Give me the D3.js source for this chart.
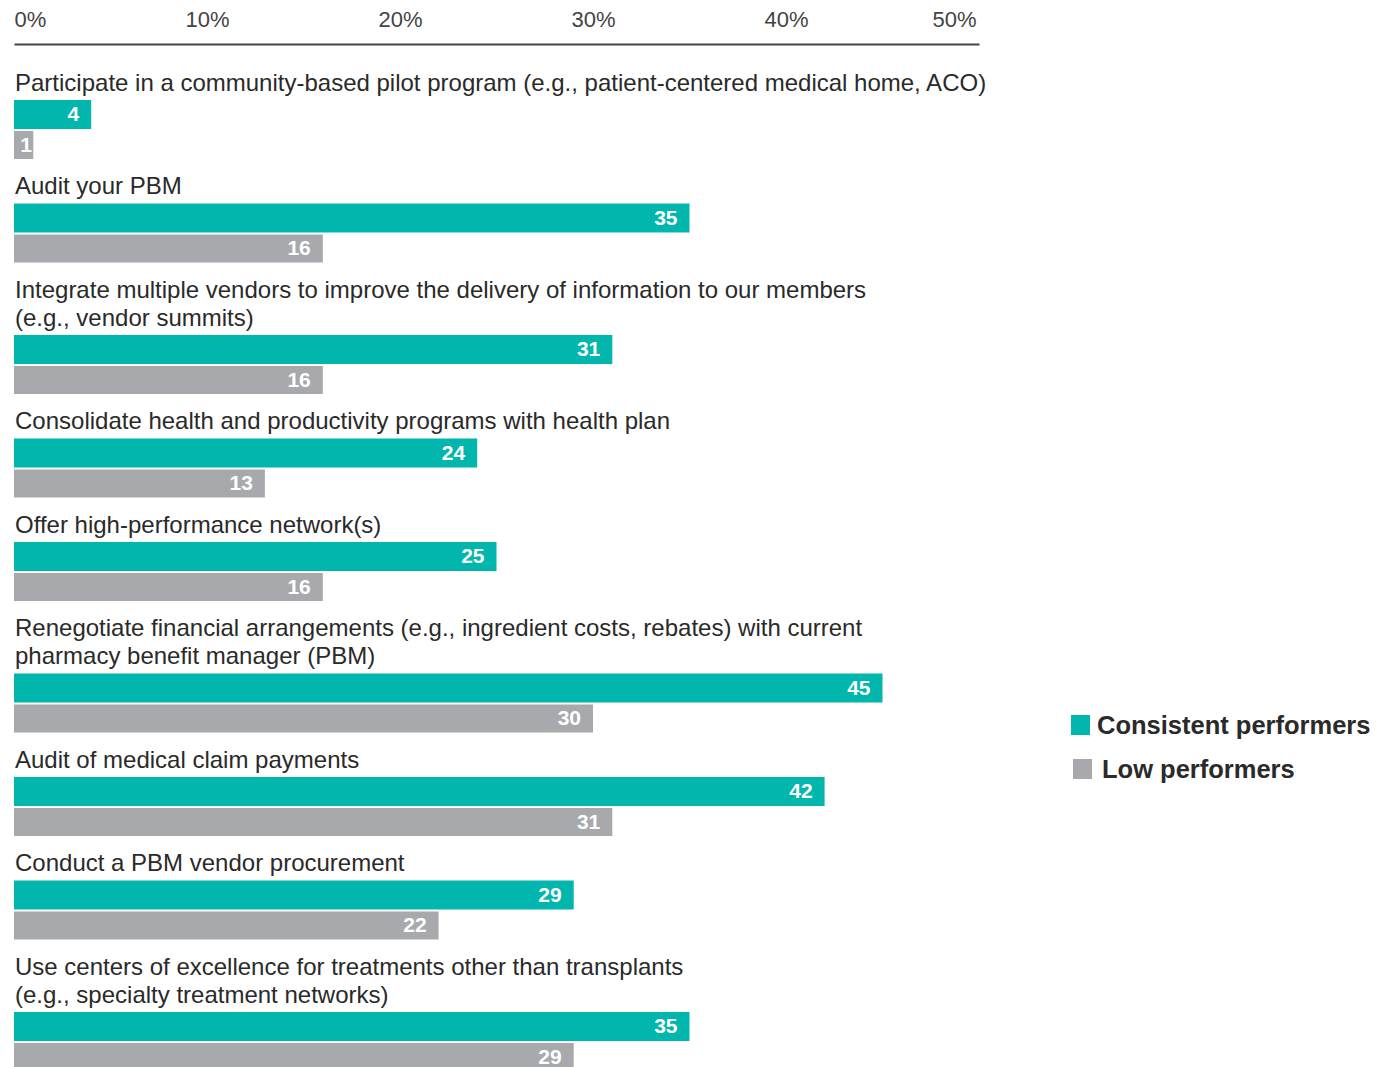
<!DOCTYPE html>
<html>
<head>
<meta charset="utf-8">
<script src="https://cdn.jsdelivr.net/npm/d3@7"></script>
<style>
  html, body { margin: 0; padding: 0; background: #fff; }
  svg { display: block; font-family: "Liberation Sans", Arial, sans-serif; }
</style>
</head>
<body>
<svg id="chart" width="1382" height="1067"></svg>
<script>
// Survey items, each split into the lines it is printed on
const categories = [
  ["Participate in a community-based pilot program (e.g., patient-centered medical home, ACO)"],
  ["Audit your PBM"],
  ["Integrate multiple vendors to improve the delivery of information to our members", "(e.g., vendor summits)"],
  ["Consolidate health and productivity programs with health plan"],
  ["Offer high-performance network(s)"],
  ["Renegotiate financial arrangements (e.g., ingredient costs, rebates) with current", "pharmacy benefit manager (PBM)"],
  ["Audit of medical claim payments"],
  ["Conduct a PBM vendor procurement"],
  ["Use centers of excellence for treatments other than transplants", "(e.g., specialty treatment networks)"]
];
const consistentPerformers = [4, 35, 31, 24, 25, 45, 42, 29, 35];
const lowPerformers = [1, 16, 16, 13, 16, 30, 31, 22, 29];
const seriesNames = ["Consistent performers", "Low performers"];
const tickValues = [0, 10, 20, 30, 40, 50];

const TEAL = "#00B6AD";
const GREY = "#A7A9AC";
const INK = "#2a2a2a";

const svg = d3.select("#chart");

const x = d3.scaleLinear().domain([0, 50]).range([14, 979]);

// Top axis
const axis = svg.append("g")
  .attr("transform", "translate(0,44)")
  .call(d3.axisTop(x).tickValues(tickValues).tickFormat(d => d + "%").tickSize(0).tickSizeOuter(0).tickPadding(17));
axis.select(".domain").attr("stroke", "#444").attr("stroke-width", 2);
axis.selectAll(".tick text")
  .attr("fill", "#444")
  .style("font-size", "22px")
  .style("font-family", "'Liberation Sans', Arial, sans-serif")
  .attr("text-anchor", (d, i, n) => i === 0 ? "start" : (i === n.length - 1 ? "end" : "middle"))
  .attr("dx", (d, i, n) => i === n.length - 1 ? -3 : 0);

// Vertical layout: label lines, then the pair of bars
const lineH = 28, labelToBar = 18, barH1 = 29, barGap = 2, barH2 = 28, groupGap = 26.5;
let cursor = 82;
const rows = categories.map((lines, i) => {
  const labelY = lines.map((_, k) => cursor + k * lineH);
  const top1 = labelY[labelY.length - 1] + labelToBar;
  const top2 = top1 + barH1 + barGap;
  cursor = top2 + barH2 + groupGap;
  return { lines, labelY, top1, top2, a: consistentPerformers[i], b: lowPerformers[i] };
});

const g = svg.selectAll("g.row").data(rows).join("g").attr("class", "row");

g.each(function(d) {
  const row = d3.select(this);
  row.selectAll("text.cat").data(d.lines.map((t, k) => ({ t, y: d.labelY[k] })))
    .join("text").attr("class", "cat")
    .attr("x", 15).attr("y", e => e.y)
    .attr("dominant-baseline", "central")
    .attr("fill", INK)
    .style("font-size", "24px")
    .text(e => e.t);

  const bars = [
    { v: d.a, y: d.top1, h: barH1, c: TEAL },
    { v: d.b, y: d.top2, h: barH2, c: GREY }
  ];
  row.selectAll("rect.bar").data(bars).join("rect").attr("class", "bar")
    .attr("x", x(0)).attr("y", e => e.y)
    .attr("width", e => x(e.v) - x(0)).attr("height", e => e.h)
    .attr("fill", e => e.c);
  row.selectAll("text.val").data(bars).join("text").attr("class", "val")
    .attr("x", e => Math.max(x(e.v) - 12, x(0) + 18)).attr("y", e => e.y + e.h / 2 - 1)
    .attr("text-anchor", "end")
    .attr("dominant-baseline", "central")
    .attr("fill", "#fff")
    .style("font-size", "21px").style("font-weight", "bold")
    .text(e => e.v);
});

// Legend
const legend = svg.append("g");
const legendItems = [
  { name: seriesNames[0], c: TEAL, sx: 1071, sy: 715, tx: 1097, ty: 725 },
  { name: seriesNames[1], c: GREY, sx: 1073, sy: 759, tx: 1102, ty: 769 }
];
legend.selectAll("rect").data(legendItems).join("rect")
  .attr("x", d => d.sx).attr("y", d => d.sy).attr("width", 19).attr("height", 20).attr("fill", d => d.c);
legend.selectAll("text").data(legendItems).join("text")
  .attr("x", d => d.tx).attr("y", d => d.ty)
  .attr("dominant-baseline", "central")
  .attr("fill", INK)
  .style("font-size", "25.5px").style("font-weight", "bold")
  .text(d => d.name);
</script>
</body>
</html>
